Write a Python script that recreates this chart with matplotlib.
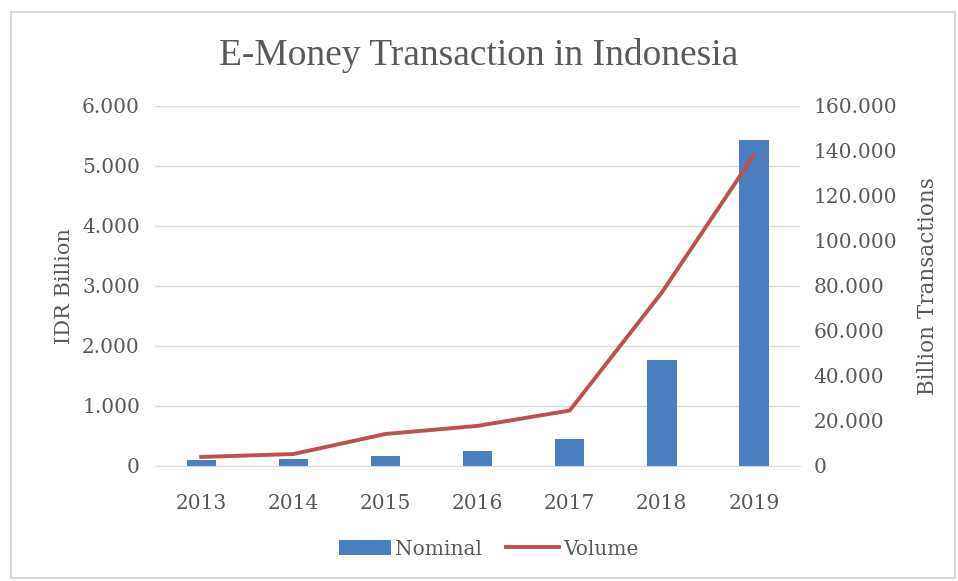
import matplotlib
matplotlib.use("Agg")
import matplotlib.pyplot as plt
from matplotlib.ticker import FuncFormatter
from matplotlib.patches import Rectangle

years = ["2013", "2014", "2015", "2016", "2017", "2018", "2019"]
nominal = [100, 120, 170, 255, 455, 1767, 5422]
volume = [4000, 5300, 14200, 17800, 24600, 77000, 138000]
left_ticks = [0, 1000, 2000, 3000, 4000, 5000, 6000]
right_ticks = [0, 20000, 40000, 60000, 80000, 100000, 120000, 140000, 160000]

plt.rcParams['font.family'] = ['DejaVu Serif']
txt = '#595959'
fs = 14.5

fig = plt.figure(figsize=(9.58, 5.81), dpi=100)
fig.patches.append(Rectangle((0.012, 0.005), 0.985, 0.975, transform=fig.transFigure,
                             fill=False, edgecolor='#d0d0d0', linewidth=1.2))
ax = fig.add_axes([0.162, 0.198, 0.673, 0.62])
x = list(range(len(years)))
bars = ax.bar(x, nominal, width=0.32, color='#4a7ebf', label='Nominal', zorder=2)
ax.set_xlim(-0.5, 6.5)
ax.set_ylim(0, 6000)
ax.set_yticks(left_ticks)
fmt = FuncFormatter(lambda v, p: f"{int(v):,}".replace(",", "."))
ax.yaxis.set_major_formatter(fmt)
ax.set_xticks(x)
ax.set_xticklabels(years)
ax.grid(axis='y', color='#d9d9d9', linewidth=1, zorder=0)
for s in ['top', 'right', 'left']:
    ax.spines[s].set_visible(False)
ax.spines['bottom'].set_color('#d9d9d9')
ax.tick_params(length=0, labelsize=fs, colors=txt, pad=11)
ax.tick_params(axis='x', pad=20)
ax.set_ylabel('IDR Billion', fontsize=15, color=txt, labelpad=6)

ax2 = ax.twinx()
line, = ax2.plot(x, volume, color='#c0504d', linewidth=2.8, label='Volume', zorder=3)
ax2.set_ylim(0, 160000)
ax2.set_yticks(right_ticks)
ax2.yaxis.set_major_formatter(fmt)
for s in ['top', 'right', 'left', 'bottom']:
    ax2.spines[s].set_visible(False)
ax2.tick_params(length=0, labelsize=fs, colors=txt, pad=10)
ax2.set_ylabel('Billion Transactions', fontsize=15.5, color=txt, labelpad=14)

fig.text(0.5, 0.905, 'E-Money Transaction in Indonesia', ha='center', va='center',
         fontsize=27, color=txt, family='Liberation Serif')
fig.legend([bars, line], ['Nominal', 'Volume'], loc='center', bbox_to_anchor=(0.51, 0.055),
           ncol=2, frameon=False, fontsize=fs, labelcolor=txt, handlelength=2.6,
           handletextpad=0.2, columnspacing=1.2)

fig.savefig('out.png', dpi=100)
